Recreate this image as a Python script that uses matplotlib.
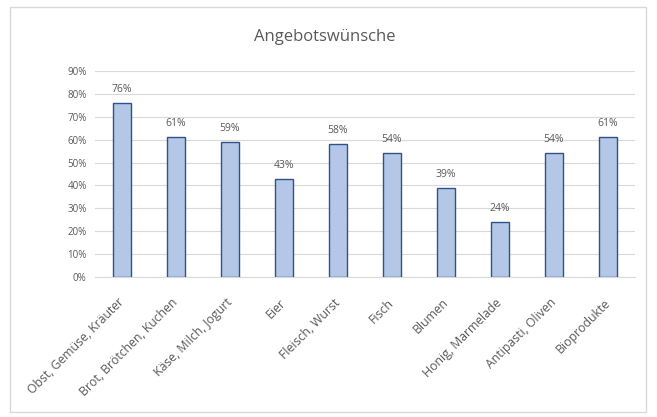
import matplotlib
matplotlib.use("Agg")
import matplotlib.pyplot as plt
from matplotlib.patches import Rectangle

categories = ["Obst, Gemüse, Kräuter", "Brot, Brötchen, Kuchen", "Käse, Milch, Jogurt",
              "Eier", "Fleisch, Wurst", "Fisch", "Blumen", "Honig, Marmelade",
              "Antipasti, Oliven", "Bioprodukte"]
values = [0.76, 0.61, 0.59, 0.43, 0.58, 0.54, 0.39, 0.24, 0.54, 0.61]
yticks = [0, 0.1, 0.2, 0.3, 0.4, 0.5, 0.6, 0.7, 0.8, 0.9]

plt.rcParams['font.family'] = ['Open Sans', 'DejaVu Sans']
txt = '#595959'

fig = plt.figure(figsize=(6.57, 4.17), dpi=100)
fig.patches.append(Rectangle((10/657, 1-412/417), 636/657, 405/417, transform=fig.transFigure,
                             fill=False, edgecolor='#d9d9d9', lw=1))
ax = fig.add_axes([95/657, 1-277/417, 540/657, 206/417])
x = range(len(categories))
bars = ax.bar(x, values, width=0.32, color='#b4c7e7', edgecolor='#2f528f', lw=1, zorder=3)
for xi, v in zip(x, values):
    ax.text(xi, v + 0.035, f"{round(v*100)}%", ha='center', va='bottom', fontsize=7.5, color=txt)
ax.set_ylim(0, 0.9)
ax.set_xlim(-0.5, len(categories) - 0.5)
ax.set_yticks(yticks)
ax.set_yticklabels([f"{int(round(t*100))}%" for t in yticks], fontsize=7, color=txt)
ax.set_xticks(list(x))
ax.set_xticklabels(categories, rotation=45, ha='right', va='center', rotation_mode='anchor',
                   fontsize=8.8, color=txt)
ax.tick_params(axis='x', length=0, pad=17)
ax.tick_params(axis='y', length=0, pad=6)
ax.grid(axis='y', color='#d9d9d9', lw=0.8, zorder=0)
for s in ['top', 'right', 'left']:
    ax.spines[s].set_visible(False)
ax.spines['bottom'].set_color('#d9d9d9')
fig.text(325/657, 1-37/417, "Angebotswünsche", ha='center', va='center', fontsize=12, color=txt)
fig.savefig("out.png", dpi=100)
